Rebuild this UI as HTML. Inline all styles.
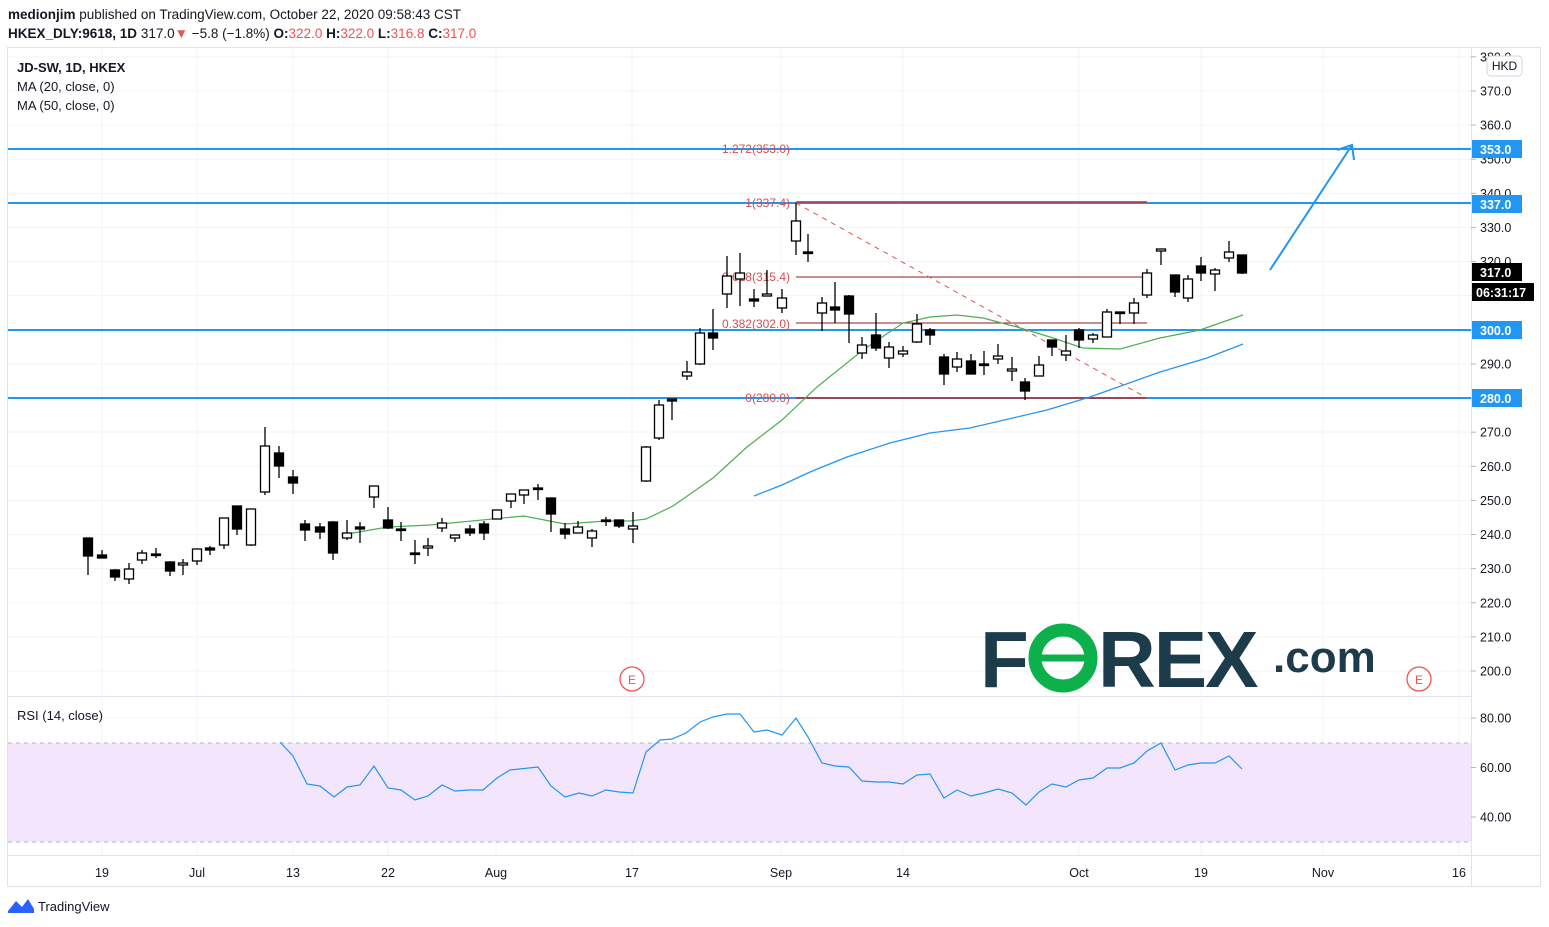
<!DOCTYPE html>
<html><head><meta charset="utf-8"><style>
body{margin:0;width:1549px;height:927px;background:#fff;overflow:hidden;font-family:"Liberation Sans",sans-serif;}
svg{position:absolute;left:0;top:0}
</style></head><body>
<svg id="s" width="1549" height="927" xmlns="http://www.w3.org/2000/svg" font-family="Liberation Sans, sans-serif">
<text x="8" y="19" font-size="13.5" fill="#131722"><tspan font-weight="bold">medionjim</tspan> published on TradingView.com, October 22, 2020 09:58:43 CST</text>
<text x="8" y="38" font-size="13.5" fill="#131722"><tspan font-weight="bold">HKEX_DLY:9618, 1D</tspan> 317.0<tspan fill="#ef5350">▼</tspan> −5.8 (−1.8%) <tspan font-weight="bold">O:</tspan><tspan fill="#ef5350">322.0</tspan> <tspan font-weight="bold">H:</tspan><tspan fill="#ef5350">322.0</tspan> <tspan font-weight="bold">L:</tspan><tspan fill="#ef5350">316.8</tspan> <tspan font-weight="bold">C:</tspan><tspan fill="#ef5350">317.0</tspan></text>
<rect x="7.5" y="47.5" width="1533" height="839" fill="none" stroke="#e0e3eb"/>
<line x1="1471.5" y1="47" x2="1471.5" y2="887" stroke="#e0e3eb"/>
<line x1="8" y1="696.5" x2="1471" y2="696.5" stroke="#e0e3eb"/>
<line x1="8" y1="855.5" x2="1541" y2="855.5" stroke="#e0e3eb"/>
<g id="grid"></g>
<rect x="8" y="743" width="1463" height="99" fill="#f3e6fc"/>
<line x1="8" y1="743" x2="1471" y2="743" stroke="#b2b5be" stroke-dasharray="4,4"/>
<line x1="8" y1="842" x2="1471" y2="842" stroke="#b2b5be" stroke-dasharray="4,4"/>
<!-- FOREX logo -->
<text x="980" y="687" font-size="80" font-weight="bold" fill="#1d3c4b" letter-spacing="-2">F</text>
<circle cx="1063" cy="658" r="28" fill="none" stroke="#0db14b" stroke-width="13"/>
<line x1="1040" y1="658" x2="1092" y2="658" stroke="#0db14b" stroke-width="7"/>
<text x="1098" y="687" font-size="80" font-weight="bold" fill="#1d3c4b" letter-spacing="-2">REX</text>
<text x="1273" y="672" font-size="44" font-weight="bold" fill="#1d3c4b">.com</text>
<g id="g"></g>
<text x="17" y="72" font-size="13" font-weight="bold" fill="#131722">JD-SW, 1D, HKEX</text>
<text x="17" y="91" font-size="13" fill="#131722">MA (20, close, 0)</text>
<text x="17" y="110" font-size="13" fill="#131722">MA (50, close, 0)</text>
<text x="17" y="720" font-size="13" fill="#131722">RSI (14, close)</text>
<circle cx="632" cy="679" r="12" fill="#fff" stroke="#ef5350" stroke-width="1.3"/><text x="632" y="684" font-size="12" fill="#ef5350" text-anchor="middle">E</text>
<circle cx="1419" cy="679" r="12" fill="#fff" stroke="#ef5350" stroke-width="1.3"/><text x="1419" y="684" font-size="12" fill="#ef5350" text-anchor="middle">E</text>
<g id="ax" font-size="12.5" fill="#131722"></g>
<rect x="1487" y="56" width="35" height="20" rx="4" fill="#fff" stroke="#d1d4dc"/>
<text x="1504.5" y="70" font-size="12" fill="#131722" text-anchor="middle">HKD</text>
<g font-size="12.5" font-weight="bold" fill="#fff">
<rect x="1472" y="140" width="50" height="18" fill="#2196f3"/><text x="1480" y="154">353.0</text>
<rect x="1472" y="195" width="50" height="18" fill="#2196f3"/><text x="1480" y="209">337.0</text>
<rect x="1472" y="263" width="50" height="18" fill="#000"/><text x="1480" y="277">317.0</text>
<rect x="1472" y="283" width="62" height="18" fill="#000"/><text x="1476" y="297">06:31:17</text>
<rect x="1472" y="321" width="50" height="18" fill="#2196f3"/><text x="1480" y="335">300.0</text>
<rect x="1472" y="389" width="50" height="18" fill="#2196f3"/><text x="1480" y="403">280.0</text>
</g>
<g transform="translate(8,897)"><path d="M0 14 L8 4 L14 10 L20 2 L26 12 L26 16 L0 16Z" fill="#2962ff"/></g>
<text x="38" y="911" font-size="13" fill="#131722">TradingView</text>
</svg>
<script>
var NS="http://www.w3.org/2000/svg",g=document.getElementById('g'),gr=document.getElementById('grid'),ax=document.getElementById('ax');
function el(p,t,a,txt){var e=document.createElementNS(NS,t);for(var k in a)e.setAttribute(k,a[k]);if(txt!==undefined)e.textContent=txt;p.appendChild(e);return e;}
function Y(p){return 671-(p-200)*3.412;}
// grid
for(var p=200;p<=380;p+=10){var y=Y(p);el(gr,'line',{x1:8,x2:1471,y1:y,y2:y,stroke:'#f0f3fa'});
 el(ax,'line',{x1:1471,x2:1476,y1:y,y2:y,stroke:'#b2b5be'});el(ax,'text',{x:1480,y:y+4.5},p.toFixed(1));}
[[80,718],[60,767.5],[40,817]].forEach(function(r){el(gr,'line',{x1:8,x2:1471,y1:r[1],y2:r[1],stroke:'#f0f3fa'});el(ax,'line',{x1:1471,x2:1476,y1:r[1],y2:r[1],stroke:'#b2b5be'});el(ax,'text',{x:1480,y:r[1]+4.5},r[0].toFixed(2));});
[[102,'19'],[197,'Jul'],[293,'13'],[388,'22'],[496,'Aug'],[632,'17'],[781,'Sep'],[903,'14'],[1079,'Oct'],[1201,'19'],[1323,'Nov'],[1459,'16']].forEach(function(d){
 el(gr,'line',{x1:d[0],x2:d[0],y1:48,y2:855,stroke:'#f0f3fa'});el(ax,'text',{x:d[0],y:877,'text-anchor':'middle'},d[1]);});
// horizontal blue
[149,203,330,398].forEach(function(y){el(g,'line',{x1:8,x2:1471,y1:y,y2:y,stroke:'#2196f3','stroke-width':2});});
// fib
el(g,'line',{x1:796,x2:1147,y1:202,y2:202,stroke:'#c62828','stroke-width':1.5});
el(g,'line',{x1:796,x2:1147,y1:277,y2:277,stroke:'#8d1c1c'});
el(g,'line',{x1:796,x2:1147,y1:323,y2:323,stroke:'#8d1c1c'});
el(g,'line',{x1:796,x2:1147,y1:398,y2:398,stroke:'#c62828','stroke-width':1.5});
el(g,'line',{x1:796,x2:1147,y1:203,y2:398,stroke:'#e05050','stroke-dasharray':'5,5'});
[[149,'1.272(353.0)'],[207,'1(337.4)'],[281,'0.618(315.4)'],[328,'0.382(302.0)'],[402,'0(280.0)']].forEach(function(l){el(g,'text',{x:790,y:l[0]+(l[0]==149?4:0),'font-size':12,fill:'#d05050','text-anchor':'end'},l[1]);});
// MA lines
el(g,'polyline',{points:'347,534 388,527 430,525 524,516 565,524 606,521 630,521 646,519 673,506 713,478 747,447 782,420 817,387 863,350 903,323 930,317 957,315 983,318 1017,327 1050,337 1083,348 1120,349 1160,338 1200,330 1243,315',fill:'none',stroke:'#4caf50','stroke-width':1.2});
el(g,'polyline',{points:'754,496 782,485 810,472 847,457 890,443 930,433 970,428 1047,410 1090,397 1160,372 1207,358 1243,344',fill:'none',stroke:'#2196f3','stroke-width':1.3});
// candles [x,hi,top,bot,lo,filled]
var C=[[88,538,538,556,575,1],[102,550,555,558,558,1],[115,569,570,577,581,1],[129,563,569,579,584,0],[142,550,553,560,564,0],[156,548,554,555,558,1],[170,561,562,571,576,1],[183,559,563,565,575,0],[197,549,549,561,565,0],[210,546,548,550,555,1],[224,518,518,545,549,0],[237,506,506,529,535,1],[251,509,509,545,546,0],[265,427,446,492,495,0],[279,446,453,466,478,1],[293,470,477,483,494,1],[305,520,524,530,541,1],[320,523,527,532,539,1],[333,521,522,553,560,1],[347,520,533,538,540,0],[360,522,527,529,543,1],[374,486,486,497,508,0],[388,507,520,528,529,1],[401,522,529,530,541,1],[415,540,553,554,564,1],[428,538,546,548,556,0],[442,518,523,528,532,0],[455,535,535,538,542,0],[470,525,529,533,536,1],[484,521,524,533,540,1],[497,510,510,519,519,0],[511,494,494,501,508,0],[524,490,490,495,504,0],[538,484,488,489,500,1],[551,498,498,514,532,1],[565,523,529,534,539,1],[578,521,527,533,533,0],[592,529,531,538,547,0],[606,517,520,521,526,1],[619,520,520,526,528,1],[633,512,526,529,543,0],[646,446,447,481,482,0],[659,400,405,438,440,0],[672,399,399,401,420,1],[687,361,372,376,380,0],[700,328,333,364,365,0],[713,309,333,338,350,1],[727,256,276,294,308,0],[740,253,273,279,306,0],[754,289,299,301,307,1],[767,270,294,296,296,0],[782,289,298,308,313,0],[796,203,221,241,255,0],[808,234,252,253,262,1],[822,297,303,313,331,0],[835,282,307,310,323,1],[849,295,296,314,343,1],[862,337,345,353,359,0],[876,313,335,348,351,1],[889,342,347,358,368,0],[903,346,351,354,357,0],[917,314,324,342,343,0],[930,328,330,335,345,1],[944,354,357,374,385,1],[957,352,359,367,372,0],[971,354,361,374,374,1],[984,351,364,365,375,1],[998,344,356,359,364,0],[1012,357,369,371,381,0],[1025,378,382,391,400,1],[1039,356,365,376,376,0],[1052,340,340,347,356,1],[1066,335,351,355,361,0],[1079,328,330,340,348,1],[1093,333,335,339,343,0],[1107,309,312,337,337,0],[1120,312,312,313,324,1],[1134,298,303,313,324,0],[1147,269,273,295,298,0],[1161,249,249,251,265,0],[1175,275,275,292,297,1],[1188,275,279,298,302,0],[1201,257,266,273,281,1],[1215,268,270,274,291,0],[1229,241,252,258,262,0],[1242,255,255,273,274,1]];
C.forEach(function(c){var x=c[0];el(g,'line',{x1:x,x2:x,y1:c[1],y2:c[4],stroke:'#000','stroke-width':1.3});
 var h=Math.max(c[3]-c[2],1.5);el(g,'rect',{x:x-4.5,y:c[2],width:9,height:h,fill:c[5]?'#000':'#fff',stroke:'#000','stroke-width':1.3});});
// RSI
el(g,'polyline',{points:'280,742 293,756 307,784 320,786 334,797 347,787 360,785 374,766 388,788 401,790 415,800 428,796 442,785 455,791 469,790 483,790 497,778 510,770 538,767 551,786 565,797 579,793 592,796 606,790 619,792 633,793 646,752 660,740 672,739 686,733 700,722 713,717 727,714 740,714 754,732 767,730 782,735 796,718 808,737 822,763 835,766 849,767 862,781 876,782 889,782 903,784 917,775 930,774 944,798 957,790 971,796 984,793 998,789 1012,793 1026,805 1039,792 1052,784 1066,787 1079,780 1093,778 1107,768 1120,768 1134,763 1147,751 1161,743 1175,770 1188,765 1201,763 1215,763 1229,756 1242,769',fill:'none',stroke:'#2196f3','stroke-width':1.2});
// arrow
el(g,'line',{x1:1270,y1:270,x2:1352,y2:145,stroke:'#2196f3','stroke-width':2});
el(g,'polyline',{points:'1337,150 1352,145 1354,160',fill:'none',stroke:'#2196f3','stroke-width':2});
</script>
</body></html>
